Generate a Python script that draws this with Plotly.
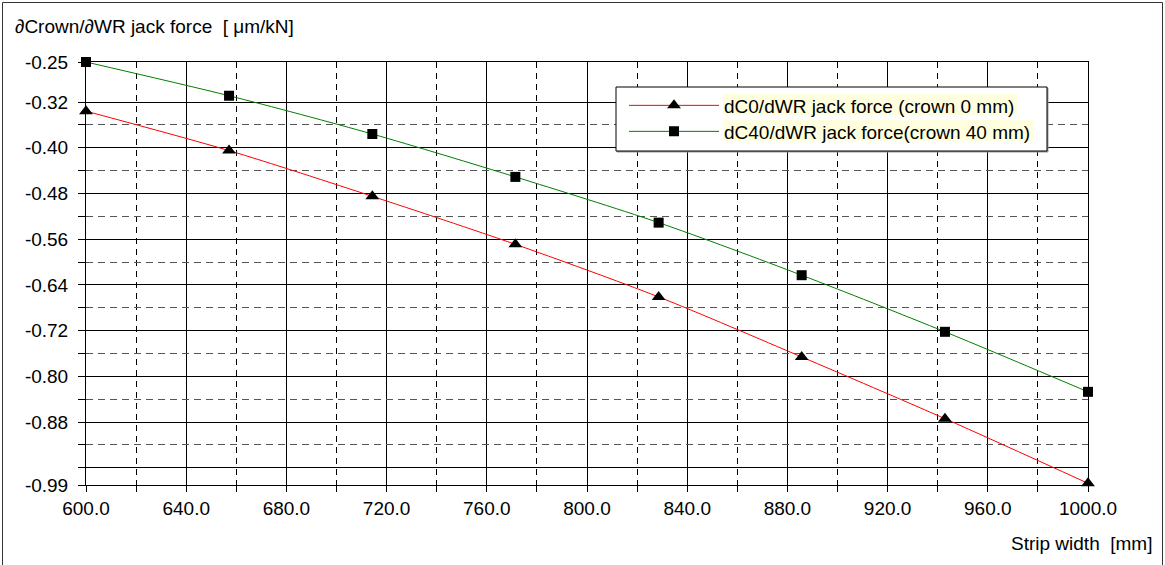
import plotly.graph_objects as go

# ---- data ----
strip_width = [600.0, 657.1, 714.3, 771.4, 828.6, 885.7, 942.9, 1000.0]
dc0_crown0 = [-0.336, -0.405, -0.485, -0.569, -0.661, -0.766, -0.874, -0.987]
dc40_crown40 = [-0.250, -0.309, -0.376, -0.451, -0.531, -0.623, -0.722, -0.827]

name0 = "dC0/dWR jack force (crown 0 mm)"
name40 = "dC40/dWR jack force(crown 40 mm)"

y_major_vals = [-0.25, -0.32, -0.40, -0.48, -0.56, -0.64, -0.72, -0.80, -0.88, -0.96, -0.99]
y_major_text = ["-0.25", "-0.32", "-0.40", "-0.48", "-0.56", "-0.64", "-0.72", "-0.80", "-0.88", "", "-0.99"]
y_minor_vals = [-0.36, -0.44, -0.52, -0.60, -0.68, -0.76, -0.84, -0.92]
x_major_vals = [600, 640, 680, 720, 760, 800, 840, 880, 920, 960, 1000]
x_major_text = ["600.0", "640.0", "680.0", "720.0", "760.0", "800.0", "840.0", "880.0", "920.0", "960.0", "1000.0"]

y_title = "\u2202Crown/\u2202WR jack force  [ \u03bcm/kN]"
x_title = "Strip width  [mm]"

FONT = "Liberation Sans, Arial, sans-serif"
FS = 19

# ---- layout geometry (pixels) ----
W, H = 1165, 565
L, R, T, B = 86, 77, 62, 80
PW, PH = W - L - R, H - T - B


def px(x):
    return (x - L) / PW


def py(y):
    return (H - B - y) / PH


fig = go.Figure()

fig.add_trace(go.Scatter(
    x=strip_width, y=dc0_crown0, name=name0, mode="lines+markers",
    line=dict(color="#ff0000", width=1, shape="spline", smoothing=0.8),
    marker=dict(symbol="triangle-up", size=12, color="#000000"),
    cliponaxis=False, legend="legend",
))
fig.add_trace(go.Scatter(
    x=strip_width, y=dc40_crown40, name=name40, mode="lines+markers",
    line=dict(color="#008000", width=1, shape="spline", smoothing=0.8),
    marker=dict(symbol="square", size=10, color="#000000"),
    cliponaxis=False, legend="legend2",
))
# invisible trace to carry the minor horizontal grid axis
fig.add_trace(go.Scatter(x=[strip_width[0]], y=[dc40_crown40[0]], yaxis="y2",
                         mode="markers", marker=dict(opacity=0), showlegend=False,
                         hoverinfo="skip"))

yr = [-0.99, -0.25]

leg_common = dict(
    xanchor="left", yanchor="middle",
    bgcolor="rgba(0,0,0,0)", borderwidth=0,
    font=dict(family=FONT, size=FS, color="#000000"),
    itemwidth=90,
)

fig.update_layout(
    width=W, height=H,
    margin=dict(l=L, r=R, t=T, b=B),
    paper_bgcolor="#ffffff", plot_bgcolor="#ffffff",
    font=dict(family=FONT, size=FS, color="#000000"),
    showlegend=True,
    legend=dict(x=px(624), y=py(105.5), **leg_common),
    legend2=dict(x=px(624), y=py(131.5), **leg_common),
    xaxis=dict(
        range=[600, 1000], tickvals=x_major_vals, ticktext=x_major_text,
        ticks="outside", ticklen=6, tickcolor="#000000",
        showgrid=True, gridcolor="#000000", gridwidth=1,
        showline=True, linecolor="#000000", linewidth=1, mirror=True,
        zeroline=False,
        minor=dict(tick0=620, dtick=40, ticks="outside", ticklen=6, tickcolor="#000000",
                   showgrid=True, gridcolor="#000000", griddash="6px,5px", gridwidth=1),
        tickfont=dict(family=FONT, size=FS),
    ),
    yaxis=dict(
        range=yr, tickvals=y_major_vals, ticktext=y_major_text,
        ticks="outside", ticklen=7, tickcolor="#000000",
        showgrid=True, gridcolor="#000000", gridwidth=1,
        showline=True, linecolor="#000000", linewidth=1, mirror=True,
        zeroline=False, ticklabelstandoff=6,
        tickfont=dict(family=FONT, size=FS),
    ),
    yaxis2=dict(
        range=yr, overlaying="y", side="left", tickvals=y_minor_vals,
        showticklabels=False, ticks="outside", ticklen=7, tickcolor="#000000",
        showgrid=True, gridcolor="#555555", griddash="7px,5px", gridwidth=1,
        showline=False, zeroline=False,
    ),
    shapes=[
        # outer chart frame
        dict(type="rect", xref="paper", yref="paper",
             x0=px(2.5), x1=px(1162.5), y0=py(600), y1=py(2.5),
             line=dict(color="#333333", width=1), fillcolor="rgba(0,0,0,0)", layer="above"),
        # legend box shadow
        dict(type="rect", xref="paper", yref="paper",
             x0=px(617), x1=px(1048), y0=py(152), y1=py(88),
             line=dict(color="#999999", width=1), fillcolor="#999999", layer="above"),
        # legend box
        dict(type="rect", xref="paper", yref="paper",
             x0=px(616), x1=px(1047), y0=py(151), y1=py(87),
             line=dict(color="#000000", width=1), fillcolor="#ffffff", layer="above"),
        # legend text highlights
        dict(type="rect", xref="paper", yref="paper",
             x0=px(723), x1=px(1018), y0=py(115), y1=py(94),
             line=dict(width=0), fillcolor="#ffffe0", layer="above"),
        dict(type="rect", xref="paper", yref="paper",
             x0=px(723), x1=px(1034), y0=py(141), y1=py(120),
             line=dict(width=0), fillcolor="#ffffe0", layer="above"),
    ],
    annotations=[
        dict(text=y_title, xref="paper", yref="paper", x=px(13), y=py(26),
             xanchor="left", yanchor="middle", showarrow=False,
             font=dict(family=FONT, size=FS, color="#000000")),
        dict(text=x_title, xref="paper", yref="paper", x=px(1154), y=py(543),
             xanchor="right", yanchor="middle", showarrow=False,
             font=dict(family=FONT, size=FS, color="#000000")),
    ],
)

fig.write_html("out.html")
